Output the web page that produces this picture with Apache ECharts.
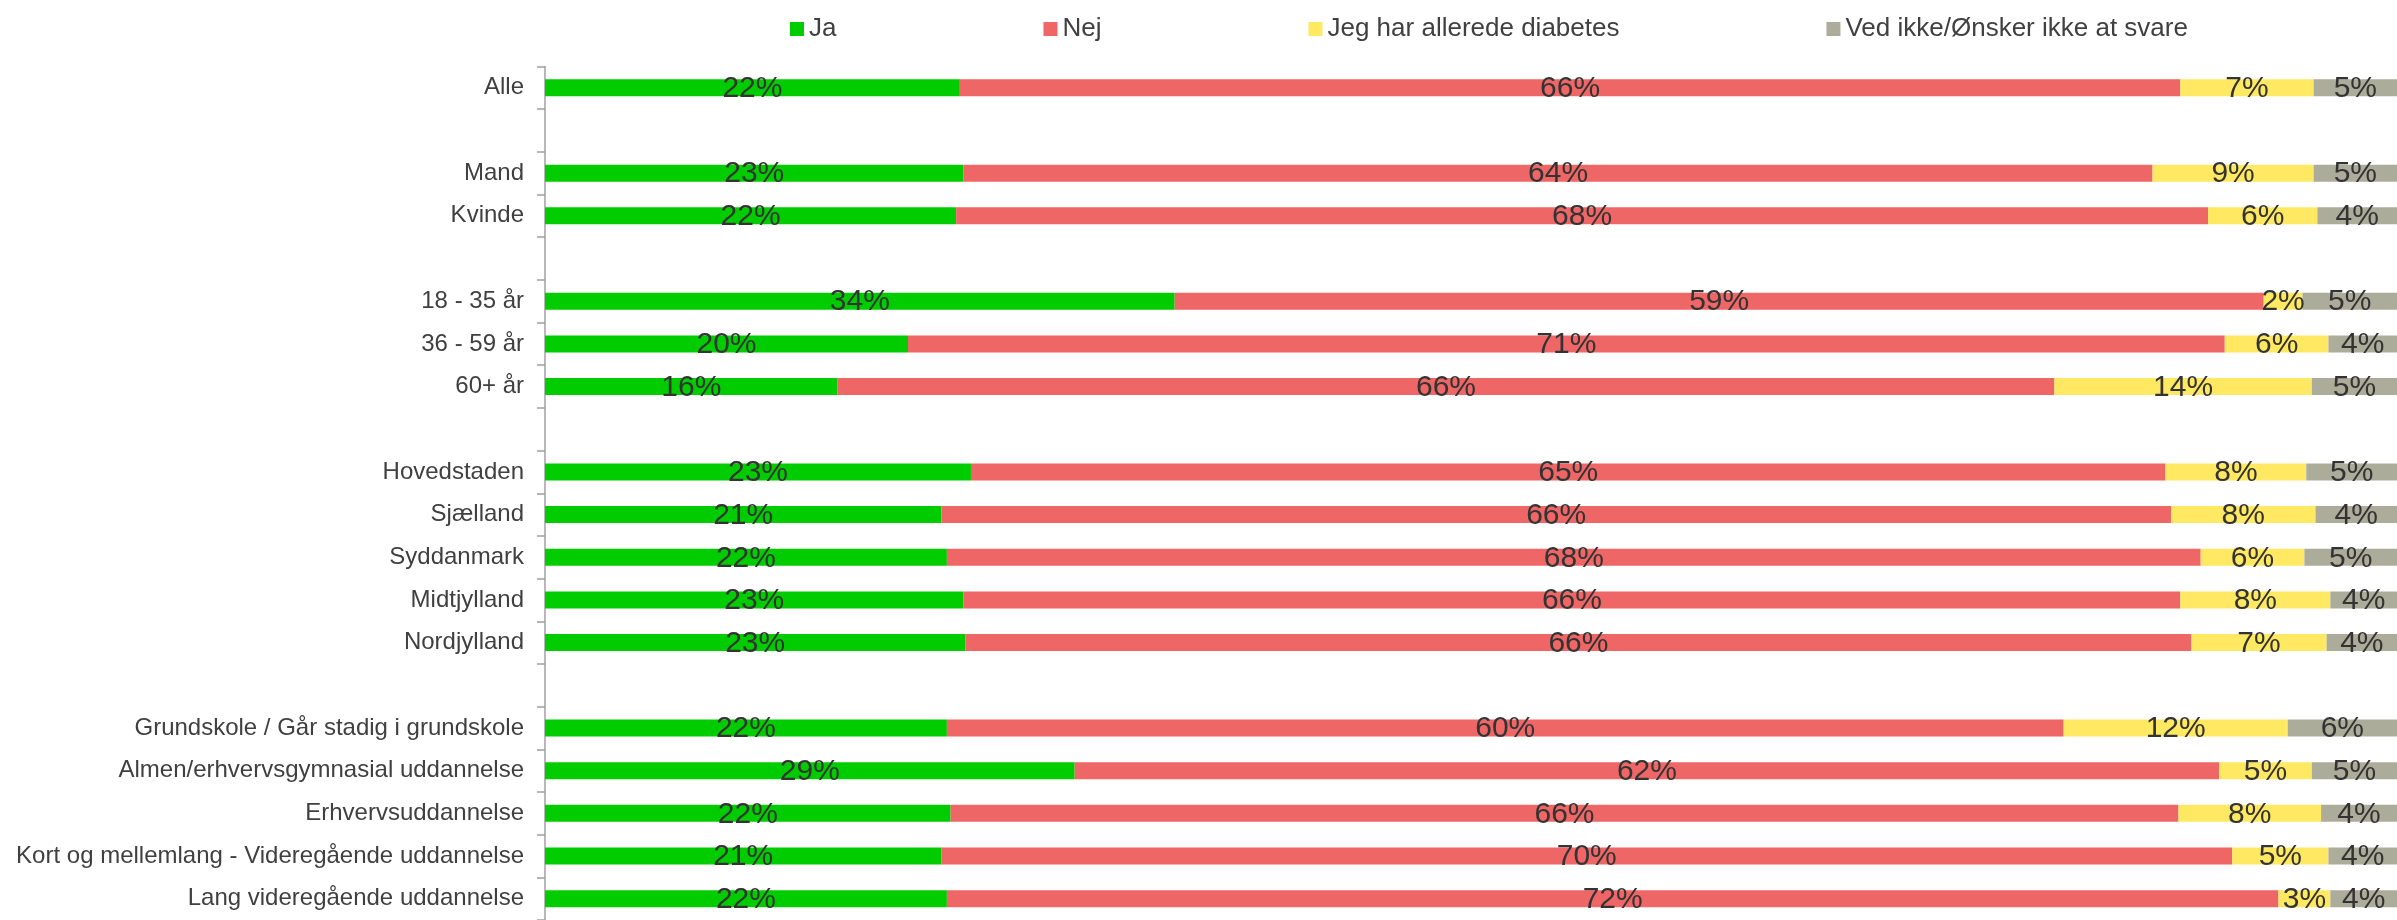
<!DOCTYPE html>
<html>
<head>
<meta charset="utf-8">
<script src="https://cdn.jsdelivr.net/npm/echarts@6/dist/echarts.min.js"></script>
<style>
html,body{margin:0;padding:0;background:#fff;}
#chart{width:2397px;height:920px;}
</style>
</head>
<body>
<div id="chart"></div>
<script>
const categories = [
  'Alle', ' ', 'Mand', 'Kvinde', '  ',
  '18 - 35 år', '36 - 59 år', '60+ år', '   ',
  'Hovedstaden', 'Sjælland', 'Syddanmark', 'Midtjylland', 'Nordjylland', '    ',
  'Grundskole / Går stadig i grundskole', 'Almen/erhvervsgymnasial uddannelse',
  'Erhvervsuddannelse', 'Kort og mellemlang - Videregående uddannelse', 'Lang videregående uddannelse'
];
const seriesNames = ['Ja', 'Nej', 'Jeg har allerede diabetes', 'Ved ikke/Ønsker ikke at svare'];
const ja      = [22.4, '-', 22.6, 22.2, '-', 34.0, 19.6, 15.8, '-', 23.0, 21.4, 21.7, 22.6, 22.7, '-', 21.7, 28.6, 21.9, 21.4, 21.7];
const nej     = [65.9, '-', 64.2, 67.6, '-', 58.8, 71.1, 65.7, '-', 64.5, 66.4, 67.7, 65.7, 66.2, '-', 60.3, 61.8, 66.3, 69.7, 71.9];
const diabetes= [7.2,  '-', 8.7,  5.9,  '-', 2.1,  5.6,  13.9, '-', 7.6,  7.8,  5.6,  8.1,  7.3,  '-', 12.1, 5.0,  7.7,  5.2,  2.8];
const vedIkke = [4.5,  '-', 4.5,  4.3,  '-', 5.1,  3.7,  4.6,  '-', 4.9,  4.4,  5.0,  3.6,  3.8,  '-', 5.9,  4.6,  4.1,  3.7,  3.6];
const colors = ['#00cc00', '#ee6666', '#ffe862', '#acac9a'];

const font = "'Liberation Sans', Arial, sans-serif";
const values = [ja, nej, diabetes, vedIkke];

const chart = echarts.init(document.getElementById('chart'), null, {renderer: 'canvas'});
chart.setOption({
  animation: false,
  backgroundColor: '#ffffff',
  color: colors,
  legend: {
    left: 785,
    top: 11,
    itemWidth: 14,
    itemHeight: 14,
    itemGap: 207,
    icon: 'rect',
    textStyle: {fontFamily: font, fontSize: 26, color: '#404040'},
    data: seriesNames
  },
  grid: {left: 545, right: 0, top: 66.5, height: 858, containLabel: false},
  xAxis: {
    type: 'value', min: 0, max: 100, show: false
  },
  yAxis: {
    type: 'category',
    inverse: true,
    data: categories,
    axisLine: {show: true, lineStyle: {color: '#a0a0a0', width: 1.5}},
    axisTick: {show: true, length: 8, lineStyle: {color: '#a0a0a0', width: 1.5}},
    axisLabel: {fontFamily: font, fontSize: 24, color: '#404040', margin: 21}
  },
  series: seriesNames.map((name, i) => ({
    name: name,
    type: 'bar',
    stack: 'total',
    barWidth: 17,
    data: values[i],
    itemStyle: {color: colors[i]},
    label: {
      show: true,
      position: 'inside',
      offset: [0, 1],
      fontFamily: font,
      fontSize: 30,
      color: '#333333',
      formatter: p => (typeof p.value === 'number') ? Math.round(p.value) + '%' : ''
    }
  }))
});
</script>
</body>
</html>
